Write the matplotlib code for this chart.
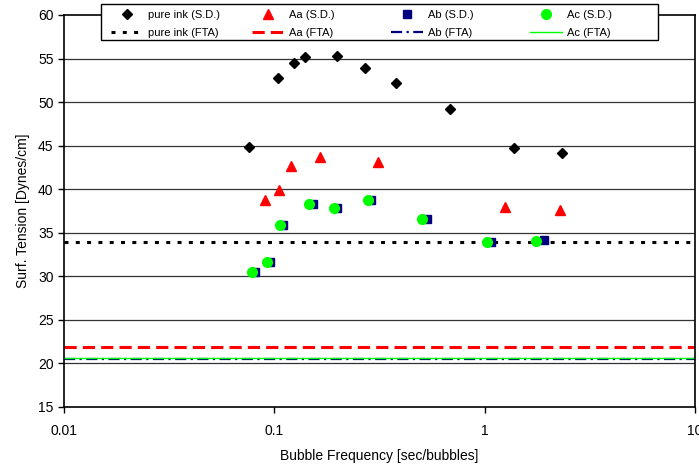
"""
Surface tension vs bubble frequency (pure ink and Aa/Ab/Ac inks)
"""

import matplotlib
matplotlib.use('Agg')
import matplotlib.pyplot as plt
import matplotlib.patches as patches
from matplotlib.ticker import FixedLocator, FixedFormatter, NullLocator

plt.rcParams['font.family'] = ['Liberation Sans', 'DejaVu Sans']

# static-drop (maximum bubble pressure) measurements
pure_x = [0.076, 0.104, 0.1245, 0.140, 0.199, 0.269, 0.379, 0.682, 1.384, 2.33]
pure_y = [44.85, 52.78, 54.46, 55.23, 55.26, 53.97, 52.2, 49.2, 44.69, 44.16]

aa_x = [0.0899, 0.105, 0.1197, 0.1644, 0.311, 1.254, 2.29]
aa_y = [38.71, 39.94, 42.67, 43.74, 43.08, 37.99, 37.64]

ab_x = [0.0813, 0.0957, 0.1096, 0.1524, 0.1986, 0.287, 0.531, 1.076, 1.91]
ab_y = [30.5, 31.6, 35.9, 38.3, 37.8, 38.8, 36.6, 33.9, 34.2]

ac_x = [0.0785, 0.0922, 0.106, 0.1465, 0.192, 0.278, 0.506, 1.026, 1.755]
ac_y = [30.52, 31.63, 35.88, 38.33, 37.84, 38.79, 36.61, 33.89, 34.08]

# FTA (static) values, drawn as horizontal lines
fta_pure = 33.9
fta_aa = 21.9
fta_ab = 20.5
fta_ac = 20.6

x_ticks = [0.01, 0.1, 1, 10]
x_labels = ['0.01', '0.1', '1', '10']
y_ticks = list(range(15, 61, 5))

W, H = 699, 467
fig = plt.figure(figsize=(W / 100, H / 100), dpi=100, facecolor='white')
ax = fig.add_axes([64 / W, 1 - 407 / H, (695 - 64) / W, (407 - 15) / H])

ax.set_xscale('log')
ax.set_xlim(0.01, 10)
ax.set_ylim(15, 60)

# horizontal gridlines
for yv in y_ticks[1:-1]:
    ax.axhline(yv, color='#333333', lw=0.9, zorder=0)

# FTA lines
l_pure = ax.axhline(fta_pure, color='black', lw=2.2, linestyle=(0, (1.3, 2.4)), zorder=1)
l_aa = ax.axhline(fta_aa, color='#FF0000', lw=2.2, linestyle=(0, (4, 2)), zorder=1)
l_ab = ax.axhline(fta_ab, color='#000080', lw=1.6, linestyle=(0, (5, 2, 1, 2)), zorder=1)
l_ac = ax.axhline(fta_ac, color='#00FF00', lw=1.0, zorder=2)

# S.D. markers
m_pure, = ax.plot(pure_x, pure_y, 'D', color='black', ms=5, mec='black', zorder=3)
m_aa, = ax.plot(aa_x, aa_y, '^', color='#FF0000', ms=7, mec='#FF0000', zorder=3)
m_ab, = ax.plot(ab_x, ab_y, 's', color='#000080', ms=6, mec='#000080', zorder=3)
m_ac, = ax.plot(ac_x, ac_y, 'o', color='#00FF00', ms=7, mec='#00FF00', zorder=4)

ax.xaxis.set_major_locator(FixedLocator(x_ticks))
ax.xaxis.set_major_formatter(FixedFormatter(x_labels))
ax.xaxis.set_minor_locator(NullLocator())
ax.set_yticks(y_ticks)
ax.tick_params(axis='both', direction='out', length=4, width=1,
               labelsize=10, colors='black')
ax.tick_params(axis='x', pad=8)

for sp in ax.spines.values():
    sp.set_color('black')
    sp.set_linewidth(1.2)

ax.set_xlabel('Bubble Frequency [sec/bubbles]', fontsize=10, labelpad=8)
ax.set_ylabel('Surf. Tension [Dynes/cm]', fontsize=10, labelpad=6)

# legend frame, then one small legend per column (markers top, lines below)
frame = patches.Rectangle((101 / W, 1 - 40 / H), (658 - 101) / W, 36 / H,
                          transform=fig.transFigure, facecolor='white',
                          edgecolor='black', lw=1.0, zorder=5)
fig.add_artist(frame)

columns = [
    (111, [m_pure, l_pure], ['pure ink (S.D.)', 'pure ink (FTA)']),
    (252, [m_aa, l_aa], ['Aa (S.D.)', 'Aa (FTA)']),
    (391, [m_ab, l_ab], ['Ab (S.D.)', 'Ab (FTA)']),
    (530, [m_ac, l_ac], ['Ac (S.D.)', 'Ac (FTA)']),
]
for xpix, hs, ls in columns:
    leg = fig.legend(hs, ls, loc='upper left', bbox_to_anchor=(xpix / W, 1 - 10 / H),
                     fontsize=8, frameon=False, borderpad=0, borderaxespad=0,
                     handlelength=2.9, handletextpad=0.4, labelspacing=0.7,
                     numpoints=1)
    leg.set_zorder(6)

fig.savefig('out.png', dpi=100, facecolor='white')
